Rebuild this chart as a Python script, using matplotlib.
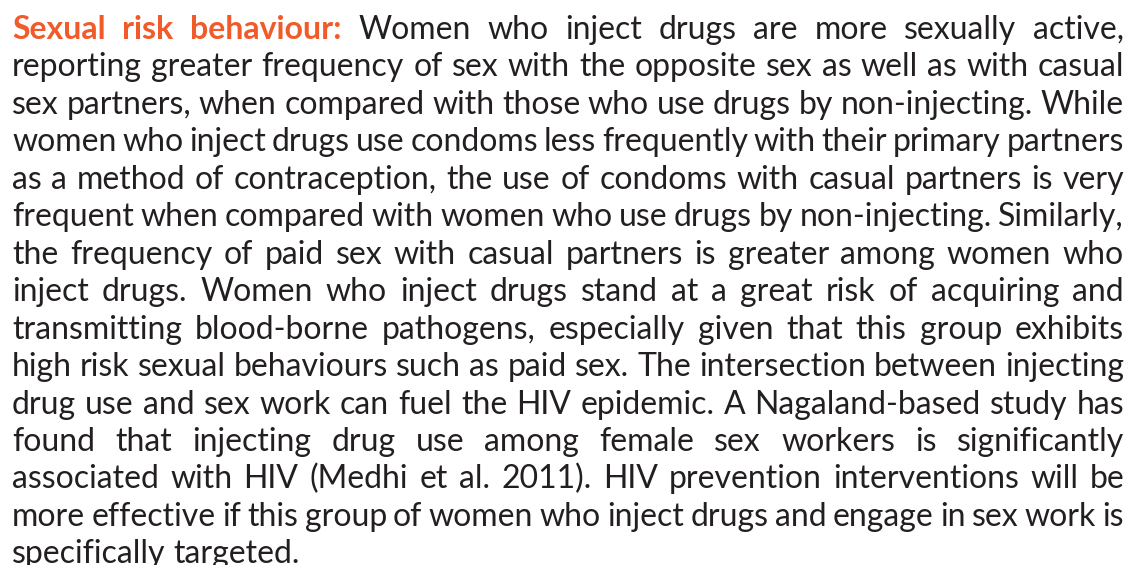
import matplotlib
matplotlib.use("Agg")
import matplotlib.pyplot as plt

heading = "Sexual risk behaviour:"
lines = [
    "Sexual risk behaviour: Women who inject drugs are more sexually active,",
    "reporting greater frequency of sex with the opposite sex as well as with casual",
    "sex partners, when compared with those who use drugs by non-injecting. While",
    "women who inject drugs use condoms less frequently with their primary partners",
    "as a method of contraception, the use of condoms with casual partners is very",
    "frequent when compared with women who use drugs by non-injecting. Similarly,",
    "the frequency of paid sex with casual partners is greater among women who",
    "inject drugs. Women who inject drugs stand at a great risk of acquiring and",
    "transmitting blood-borne pathogens, especially given that this group exhibits",
    "high risk sexual behaviours such as paid sex. The intersection between injecting",
    "drug use and sex work can fuel the HIV epidemic. A Nagaland-based study has",
    "found that injecting drug use among female sex workers is significantly",
    "associated with HIV (Medhi et al. 2011). HIV prevention interventions will be",
    "more effective if this group of women who inject drugs and engage in sex work is",
    "specifically targeted.",
]

W, H = 1134, 565
LEFT, RIGHT = 12, 1124
TOP_BASE, STEP = 39, 37.45
FONT = "Lato"
TEXT_COLOR = "#231f20"
HEAD_COLOR = "#f15a29"

fig = plt.figure(figsize=(W / 100, H / 100), dpi=100)
fig.patch.set_facecolor("white")
renderer = fig.canvas.get_renderer()

head_words = heading.split()


def measure(word, size, bold):
    t = fig.text(0, 0, word, fontsize=size, family=FONT,
                 fontweight="bold" if bold else "normal")
    w = t.get_window_extent(renderer).width
    t.remove()
    return w


def layout(size):
    data = []
    for i, line in enumerate(lines):
        words = line.split()
        items = []
        for j, w in enumerate(words):
            bold = (i == 0 and j < len(head_words))
            items.append((w, bold, measure(w, size, bold)))
        data.append(items)
    return data


size = 23.3
space = measure("a a", size, False) - 2 * measure("a", size, False)
data = layout(size)
maxnat = max(sum(x[2] for x in items) + space * 0.7 * (len(items) - 1)
             for items in data[:-1])
if maxnat > RIGHT - LEFT:
    size = size * (RIGHT - LEFT) / maxnat
    space = measure("a a", size, False) - 2 * measure("a", size, False)
    data = layout(size)

avail = RIGHT - LEFT
for i, items in enumerate(data):
    y = H - (TOP_BASE + i * STEP)
    total = sum(x[2] for x in items)
    if i < len(data) - 1 and len(items) > 1:
        gap = (avail - total) / (len(items) - 1)
    else:
        gap = space
    x = LEFT
    for w, bold, wd in items:
        fig.text(x / W, y / H, w, fontsize=size, family=FONT,
                 fontweight="bold" if bold else "normal",
                 color=HEAD_COLOR if bold else TEXT_COLOR,
                 ha="left", va="baseline")
        x += wd + gap

fig.savefig("out.png", dpi=100, facecolor="white")
